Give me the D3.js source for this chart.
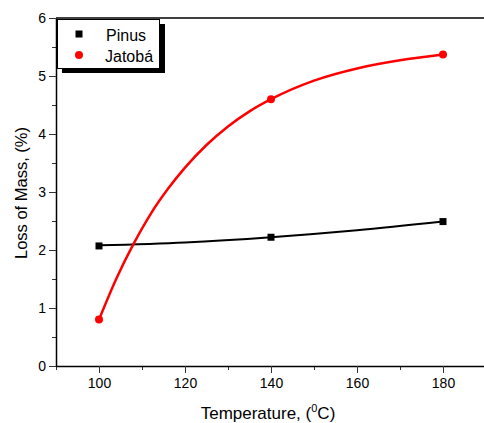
<!DOCTYPE html>
<html><head><meta charset="utf-8">
<script src="https://cdn.jsdelivr.net/npm/d3@7"></script>
<style>body{margin:0;background:#fff}svg{display:block}text{font-family:"Liberation Sans",Arial,sans-serif}</style>
</head><body><svg id="c" width="484" height="423"></svg>
<script>
const temps = [100, 140, 180];
const pinus = [2.07, 2.22, 2.49];
const jatoba = [0.80, 4.60, 5.37];
// fitted curves
const fitXJatoba = [100, 104, 108, 112, 116, 120, 125, 130, 135, 140, 150, 160, 170, 180];
const fitYJatoba = [0.80, 1.50, 2.10, 2.62, 3.05, 3.42, 3.81, 4.13, 4.39, 4.60, 4.92, 5.13, 5.27, 5.37];
const fitXPinus = [100, 120, 140, 160, 180];
const fitYPinus = [2.08, 2.13, 2.22, 2.34, 2.49];
const xTicks = [100, 120, 140, 160, 180];
const yTicks = [0, 1, 2, 3, 4, 5, 6];
const seriesNames = ["Pinus", "Jatobá"];

const svg = d3.select("#c");
const L = 56, T = 18, R = 486, B = 366;
const x = d3.scaleLinear().domain([90, 190]).range([L, R]);
const y = d3.scaleLinear().domain([0, 6]).range([B, T]);

// frame top
svg.append("line").attr("x1", L).attr("x2", 484).attr("y1", T).attr("y2", T).attr("stroke", "#000").attr("stroke-width", 1.5);

// minor ticks
const gx = svg.append("g").attr("transform", `translate(0,${B})`);
gx.call(d3.axisBottom(x).tickValues(d3.range(90, 191, 10).filter(v => v % 20 !== 0)).tickSize(4).tickFormat(""));
gx.call(g => g.select(".domain").remove());
const gxM = svg.append("g").attr("transform", `translate(0,${B})`)
  .call(d3.axisBottom(x).tickValues(xTicks).tickSize(7).tickSizeOuter(0).tickPadding(5).tickFormat(d3.format("d")));
gxM.select(".domain").attr("stroke-width", 1.5);
gxM.selectAll("text").attr("font-size", 14).attr("fill", "#000");

const gy = svg.append("g").attr("transform", `translate(${L},0)`)
  .call(d3.axisLeft(y).tickValues(d3.range(0.5, 6, 1)).tickSize(4).tickFormat(""));
gy.select(".domain").remove();
const gyM = svg.append("g").attr("transform", `translate(${L},0)`)
  .call(d3.axisLeft(y).tickValues(yTicks).tickSize(7).tickSizeOuter(0).tickPadding(3).tickFormat(d3.format("d")));
gyM.select(".domain").attr("stroke-width", 1.5);
gyM.selectAll("text").attr("font-size", 14).attr("fill", "#000");
svg.selectAll(".tick line").attr("stroke", "#333");

// axis titles
const xt = svg.append("text").attr("x", 268).attr("y", 419).attr("text-anchor", "middle").attr("font-size", 17);
xt.append("tspan").text("Temperature, (");
xt.append("tspan").attr("font-size", 11).attr("dy", -7).text("0");
xt.append("tspan").attr("dy", 7).text("C)");
svg.append("text").attr("transform", "translate(27,193) rotate(-90)").attr("text-anchor", "middle")
  .attr("font-size", 16.5).text("Loss of Mass, (%)");

const line = d3.line().x(d => x(d[0])).y(d => y(d[1])).curve(d3.curveMonotoneX);
svg.append("path").attr("d", line(d3.zip(fitXPinus, fitYPinus))).attr("fill", "none").attr("stroke", "#000").attr("stroke-width", 2);
svg.append("path").attr("d", line(d3.zip(fitXJatoba, fitYJatoba))).attr("fill", "none").attr("stroke", "#ff0000").attr("stroke-width", 2.5);

svg.selectAll(".sq").data(d3.zip(temps, pinus)).join("rect")
  .attr("x", d => x(d[0]) - 3.5).attr("y", d => y(d[1]) - 3.5).attr("width", 7).attr("height", 7).attr("fill", "#000");
svg.selectAll(".ci").data(d3.zip(temps, jatoba)).join("circle")
  .attr("cx", d => x(d[0])).attr("cy", d => y(d[1])).attr("r", 4).attr("fill", "#ff0000");

// legend
const lg = svg.append("g");
lg.append("rect").attr("x", 62).attr("y", 24).attr("width", 103).attr("height", 49).attr("fill", "#000");
lg.append("rect").attr("x", 57.5).attr("y", 19.5).attr("width", 102).attr("height", 49).attr("fill", "#fff").attr("stroke", "#000").attr("stroke-width", 1);
lg.append("rect").attr("x", 75.5).attr("y", 30.5).attr("width", 7).attr("height", 7).attr("fill", "#000");
lg.append("circle").attr("cx", 79).attr("cy", 55).attr("r", 4).attr("fill", "#ff0000");
lg.append("text").attr("x", 106).attr("y", 41).attr("font-size", 16).text(seriesNames[0]);
lg.append("text").attr("x", 105).attr("y", 62).attr("font-size", 16).text(seriesNames[1]);
</script></body></html>
